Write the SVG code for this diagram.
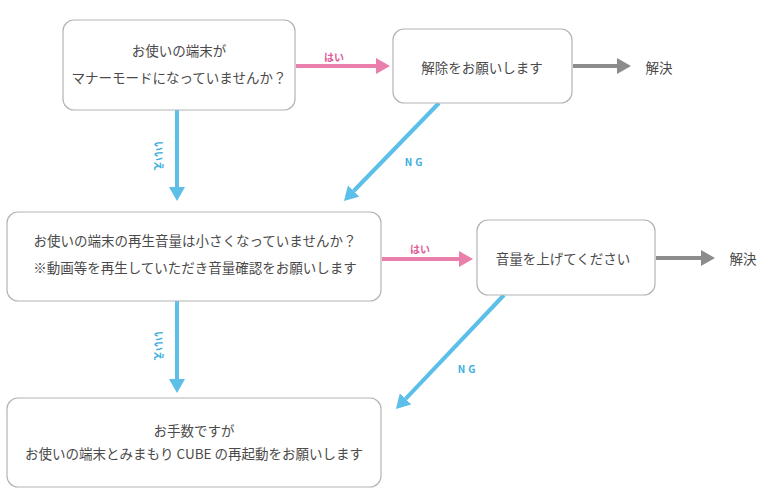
<svg xmlns="http://www.w3.org/2000/svg" width="768" height="496" viewBox="0 0 768 496">
  <defs>
    <style>
      .box { fill: #ffffff; stroke: #b4b4b4; stroke-width: 1.2; }
      .txt { font-family: "Noto Sans CJK JP", "Liberation Sans", sans-serif; font-size: 13.5px; fill: #4a4a4a; text-anchor: middle; dominant-baseline: central; }
      .lbl { font-family: "Noto Sans CJK JP", "Liberation Sans", sans-serif; font-size: 10px; font-weight: bold; text-anchor: middle; dominant-baseline: central; }
      .pink { stroke: #e97faa; stroke-width: 4; fill: none; }
      .blue { stroke: #5bbfea; stroke-width: 4; fill: none; }
      .gray { stroke: #8c8c8c; stroke-width: 4; fill: none; }
    </style>
    <marker id="ah-pink" viewBox="0 0 14 16" refX="0" refY="8" markerWidth="14" markerHeight="16" markerUnits="userSpaceOnUse" orient="auto">
      <path d="M0,0 L14,8 L0,16 z" fill="#e97faa"/>
    </marker>
    <marker id="ah-blue" viewBox="0 0 14 16" refX="0" refY="8" markerWidth="14" markerHeight="16" markerUnits="userSpaceOnUse" orient="auto">
      <path d="M0,0 L14,8 L0,16 z" fill="#5bbfea"/>
    </marker>
    <marker id="ah-gray" viewBox="0 0 14 16" refX="0" refY="8" markerWidth="14" markerHeight="16" markerUnits="userSpaceOnUse" orient="auto">
      <path d="M0,0 L14,8 L0,16 z" fill="#8c8c8c"/>
    </marker>
  </defs>

  <rect width="768" height="496" fill="#ffffff"/>

  <!-- connectors -->
  <g id="connectors">
    <line class="pink" x1="296" y1="66" x2="376" y2="66" marker-end="url(#ah-pink)"/>
    <line class="gray" x1="573" y1="66" x2="617" y2="66" marker-end="url(#ah-gray)"/>
    <line class="blue" x1="177" y1="110" x2="177" y2="187" marker-end="url(#ah-blue)"/>
    <line class="blue" x1="439" y1="103" x2="353.7" y2="191" marker-end="url(#ah-blue)"/>
    <line class="pink" x1="382" y1="259" x2="459" y2="259" marker-end="url(#ah-pink)"/>
    <line class="gray" x1="656" y1="258" x2="701" y2="258" marker-end="url(#ah-gray)"/>
    <line class="blue" x1="177" y1="301" x2="177" y2="379" marker-end="url(#ah-blue)"/>
    <line class="blue" x1="504" y1="295" x2="405.6" y2="398.8" marker-end="url(#ah-blue)"/>

    <text class="lbl" x="334" y="56" fill="#e0609a">はい</text>
    <text class="lbl" x="420" y="248" fill="#e0609a">はい</text>
    <text class="lbl" x="415" y="161" fill="#3aaee0" letter-spacing="3">NG</text>
    <text class="lbl" x="468" y="368" fill="#3aaee0" letter-spacing="3">NG</text>
    <text class="lbl" fill="#3aaee0" transform="translate(159,156) rotate(90)">いいえ</text>
    <text class="lbl" fill="#3aaee0" transform="translate(159,346) rotate(90)">いいえ</text>
  </g>

  <g id="q-manner">
    <rect class="box" x="63" y="20" width="232" height="90" rx="11"/>
    <text class="txt" x="179" y="50">お使いの端末が</text>
    <text class="txt" x="179" y="77">マナーモードになっていませんか？</text>
  </g>

  <g id="a-release">
    <rect class="box" x="393" y="29" width="179" height="74" rx="11"/>
    <text class="txt" x="482" y="67">解除をお願いします</text>
  </g>

  <g id="done-1">
    <text class="txt" x="659" y="67">解決</text>
  </g>

  <g id="q-volume">
    <rect class="box" x="7" y="212" width="374" height="89" rx="11"/>
    <text class="txt" x="195" y="240">お使いの端末の再生音量は小さくなっていませんか？</text>
    <text class="txt" x="195" y="267">※動画等を再生していただき音量確認をお願いします</text>
  </g>

  <g id="a-volume">
    <rect class="box" x="477" y="220" width="178" height="75" rx="11"/>
    <text class="txt" x="563" y="258">音量を上げてください</text>
  </g>

  <g id="done-2">
    <text class="txt" x="743" y="258">解決</text>
  </g>

  <g id="restart">
    <rect class="box" x="7" y="398" width="374" height="89" rx="11"/>
    <text class="txt" x="194" y="430">お手数ですが</text>
    <text class="txt" x="194" y="453">お使いの端末とみまもり CUBE の再起動をお願いします</text>
  </g>
</svg>
